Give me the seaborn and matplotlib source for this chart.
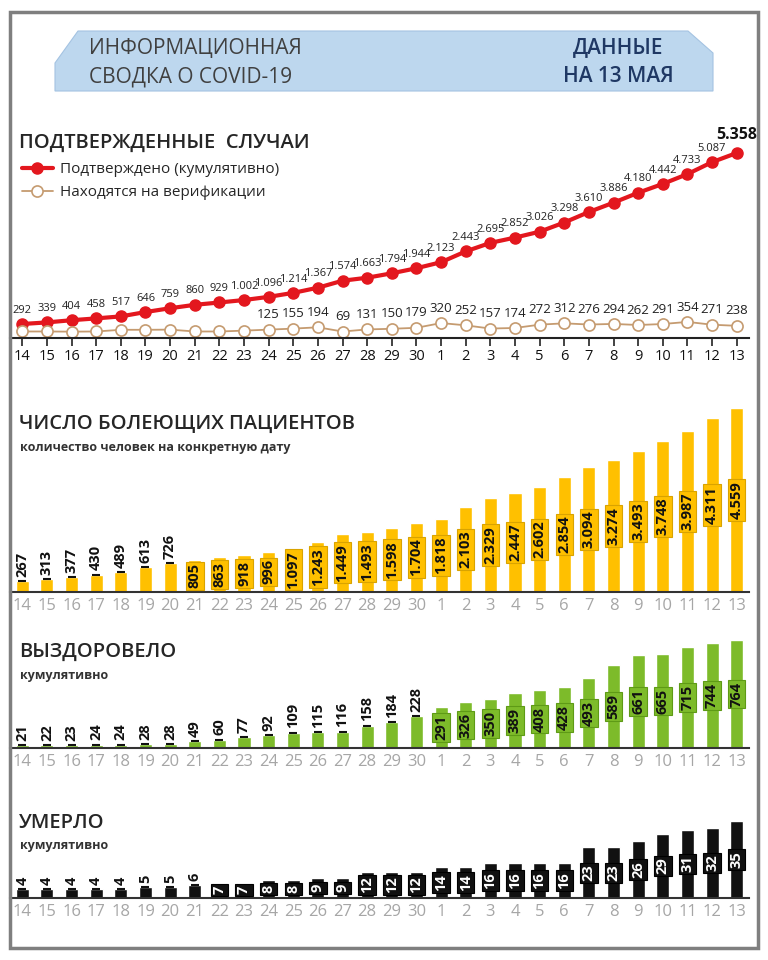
import numpy as np
import pandas as pd
import matplotlib
matplotlib.use("Agg")
import matplotlib.pyplot as plt
import seaborn as sns
from matplotlib.patches import Polygon, Rectangle

sns.set_style("white")
plt.rcParams['font.family'] = ['Open Sans', 'DejaVu Sans']

# даты: 14-30 апреля, 1-13 мая
days = ["14", "15", "16", "17", "18", "19", "20", "21", "22", "23", "24", "25", "26", "27",
        "28", "29", "30", "1", "2", "3", "4", "5", "6", "7", "8", "9", "10", "11", "12", "13"]

confirmed = [292, 339, 404, 458, 517, 646, 759, 860, 929, 1002, 1096, 1214, 1367, 1574, 1663,
             1794, 1944, 2123, 2443, 2695, 2852, 3026, 3298, 3610, 3886, 4180, 4442, 4733, 5087, 5358]
# первые 10 точек без подписей - оценка по картинке
verification = [70, 70, 65, 70, 120, 120, 125, 70, 70, 95, 125, 155, 194, 69, 131,
                150, 179, 320, 252, 157, 174, 272, 312, 276, 294, 262, 291, 354, 271, 238]
verif_first_label = 10

active = [267, 313, 377, 430, 489, 613, 726, 805, 863, 918, 996, 1097, 1243, 1449, 1493,
          1598, 1704, 1818, 2103, 2329, 2447, 2602, 2854, 3094, 3274, 3493, 3748, 3987, 4311, 4559]
recovered = [21, 22, 23, 24, 24, 28, 28, 49, 60, 77, 92, 109, 115, 116, 158,
             184, 228, 291, 326, 350, 389, 408, 428, 493, 589, 661, 665, 715, 744, 764]
deaths = [4, 4, 4, 4, 4, 5, 5, 6, 7, 7, 8, 8, 9, 9, 12,
          12, 12, 14, 14, 16, 16, 16, 16, 23, 23, 26, 29, 31, 32, 35]

pos = np.arange(len(days))
W, H = 768, 960

RED = "#E3171E"
TAN = "#C59B70"
YELLOW = "#FFC000"
GREEN = "#7DBB2A"
BLACK = "#111111"


def fmt(v):
    return f"{v:,}".replace(",", ".")


fig = plt.figure(figsize=(W / 100, H / 100), dpi=100)


def px_axes(l, t, r, b):
    return fig.add_axes([l / W, 1 - b / H, (r - l) / W, (b - t) / H])


def fx(x):
    return x / W


def fy(y):
    return 1 - y / H


# рамка и шапка
fig.patches.append(Rectangle((fx(10), fy(948)), fx(758) - fx(10), fy(12) - fy(948),
                             transform=fig.transFigure, fill=False, ec="#7F7F7F", lw=2.5))
banner = [(55, 91), (55, 63), (78, 31), (688, 31), (713, 53), (713, 91)]
fig.patches.append(Polygon([(fx(x), fy(y)) for x, y in banner], closed=True,
                           transform=fig.transFigure, fc="#BDD7EE", ec="#A4C3E2", lw=0.8))
fig.text(fx(89), fy(48), "ИНФОРМАЦИОННАЯ", fontsize=15, color="#404040", va="center")
fig.text(fx(89), fy(77), "СВОДКА О COVID-19", fontsize=15, color="#404040", va="center")
fig.text(fx(618), fy(48), "ДАННЫЕ", fontsize=15, color="#1F3864", va="center", ha="center",
         fontweight="semibold")
fig.text(fx(618), fy(76), "НА 13 МАЯ", fontsize=15, color="#1F3864", va="center", ha="center",
         fontweight="semibold")


# заголовки разделов
def section(y, title, sub=None, sub_y=None):
    fig.text(fx(19), fy(y), title, fontsize=14.5, color="#262626", va="center", fontweight="semibold")
    if sub:
        fig.text(fx(20), fy(sub_y), sub, fontsize=9, color="#333333", va="center", fontweight="bold")


section(143, "ПОДТВЕРЖДЕННЫЕ  СЛУЧАИ")
section(424, "ЧИСЛО БОЛЕЮЩИХ ПАЦИЕНТОВ", "количество человек на конкретную дату", 447)
section(652, "ВЫЗДОРОВЕЛО", "кумулятивно", 675)
section(823, "УМЕРЛО", "кумулятивно", 846)

# подтвержденные случаи
ax1 = px_axes(10, 140, 749, 338)
sns.lineplot(x=pos, y=confirmed, ax=ax1, color=RED, lw=3, marker="o", ms=8,
             mec=RED, mew=1, label="Подтверждено (кумулятивно)")
sns.lineplot(x=pos, y=verification, ax=ax1, color=TAN, lw=1.3, marker="o", ms=8,
             mfc="white", mec=TAN, mew=1.2, label="Находятся на верификации")
ax1.set_xlim(-0.5, 29.5)
ax1.set_ylim(-123, 5743)
for i, v in enumerate(confirmed):
    if i == len(confirmed) - 1:
        ax1.annotate(fmt(v), (i, v), xytext=(0, 7), textcoords="offset points", ha="center",
                     va="bottom", fontsize=11.5, fontweight="bold", color="#111111")
    else:
        ax1.annotate(fmt(v), (i, v), xytext=(0, 6), textcoords="offset points", ha="center",
                     va="bottom", fontsize=8, color="#222222")
for i, v in enumerate(verification):
    if i >= verif_first_label:
        ax1.annotate(fmt(v), (i, v), xytext=(0, 6), textcoords="offset points", ha="center",
                     va="bottom", fontsize=9.5, color="#222222")
for s in ["top", "right", "left"]:
    ax1.spines[s].set_visible(False)
ax1.spines["bottom"].set_color("#222222")
ax1.spines["bottom"].set_linewidth(1.5)
ax1.set_xticks(pos)
ax1.set_xticklabels(days)
ax1.set_yticks([])
ax1.set_xlabel("")
ax1.set_ylabel("")
ax1.tick_params(axis="x", direction="out", length=6, width=1.2, color="#222222",
                labelsize=10.5, labelcolor="#111111", pad=2, bottom=True)
ax1.legend(loc="upper left", bbox_to_anchor=(fx(22), fy(162)), bbox_transform=fig.transFigure,
           frameon=False, fontsize=11, handlelength=2.0, handletextpad=0.5,
           labelspacing=0.55, borderaxespad=0, borderpad=0, labelcolor="#262626")


# столбиковые диаграммы
def bars(ax, values, color, top, first_inside, text_color, box_edge):
    sns.barplot(x=pos, y=values, ax=ax, color=color, width=0.53, saturation=1, errorbar=None)
    ax.set_xlim(-0.5, 29.5)
    ax.set_ylim(0, top)
    for i, v in enumerate(values):
        if i >= first_inside:
            ax.text(i, v / 2, fmt(v), rotation=90, ha="center", va="center", fontsize=10.5,
                    fontweight="bold", color=text_color,
                    bbox=dict(boxstyle="square,pad=0.12", fc=color, ec=box_edge, lw=0.8))
        else:
            ax.plot([i], [v], marker="_", ms=6, mew=1.5, color="#111111")
            ax.annotate(fmt(v), (i, v), xytext=(0, 3), textcoords="offset points", rotation=90,
                        ha="center", va="bottom", fontsize=10.5, fontweight="bold", color="#111111")
    for s in ["top", "right", "left"]:
        ax.spines[s].set_visible(False)
    ax.spines["bottom"].set_color("#333333")
    ax.spines["bottom"].set_linewidth(1.5)
    ax.set_xticks(pos)
    ax.set_xticklabels(days)
    ax.set_yticks([])
    ax.set_xlabel("")
    ax.set_ylabel("")
    ax.tick_params(axis="x", length=0, labelsize=12, labelcolor="#A6A6A6", pad=4)


ax2 = px_axes(10, 400, 749, 592)
bars(ax2, active, YELLOW, 4757, 7, "#111111", "#D9A300")

ax3 = px_axes(10, 632, 749, 748)
bars(ax3, recovered, GREEN, 820.6, 17, "#111111", "#5E9A16")

ax4 = px_axes(10, 815, 749, 898)
bars(ax4, deaths, BLACK, 37.7, 8, "white", "#000000")

fig.savefig("out.png", dpi=100)
